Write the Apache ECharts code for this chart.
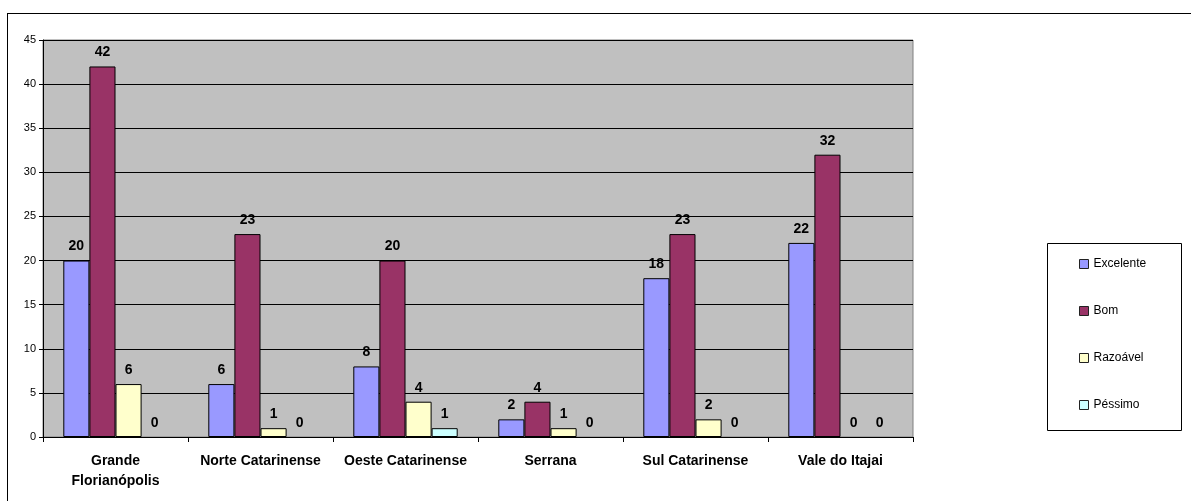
<!DOCTYPE html>
<html><head><meta charset="utf-8">
<script src="https://cdn.jsdelivr.net/npm/echarts@6/dist/echarts.min.js"></script>
<style>
html,body{margin:0;padding:0;background:#fff;overflow:hidden}
#frame{position:absolute;left:7px;top:13px;width:1200px;height:600px;border-left:1.5px solid #000;border-top:1.5px solid #000;}
#c{position:absolute;left:0;top:0;width:1191px;height:501px}
</style></head>
<body>
<div id="frame"></div>
<div id="c"></div>
<script>
const categories = ['Grande\nFlorianópolis','Norte Catarinense','Oeste Catarinense','Serrana','Sul Catarinense','Vale do Itajai'];
const seriesNames = ['Excelente','Bom','Razoável','Péssimo'];
const excelente = [20,6,8,2,18,22];
const bom = [42,23,20,4,23,32];
const razoavel = [6,1,4,1,2,0];
const pessimo = [0,0,1,0,0,0];
const yTicks = {min:0,max:45,interval:5};

const colors = ['#9999ff','#993366','#ffffcc','#ccffff'];
const values = [excelente,bom,razoavel,pessimo];
const font = 'Liberation Sans, Arial, sans-serif';

const chart = echarts.init(document.getElementById('c'), null, {renderer:'canvas'});
chart.setOption({
  animation:false,
  backgroundColor:'transparent',
  grid:{left:43,right:278,top:40,bottom:64,show:true,backgroundColor:'#c0c0c0',borderColor:'#808080',borderWidth:1},
  graphic:[{type:'rect',left:1047,top:243,shape:{width:134,height:187},style:{fill:'#fff',stroke:'#000',lineWidth:1},z:-1}],
  legend:{
    orient:'vertical',
    left:1079,top:258,
    padding:0,
    itemGap:35,
    itemWidth:9,itemHeight:9,
    textStyle:{fontFamily:font,fontSize:12,color:'#000',padding:[0,0,0,0]},
    icon:'rect',
    data:seriesNames.map(n=>({name:n,itemStyle:{borderColor:'#222',borderWidth:1}}))
  },
  xAxis:{
    type:'category',data:categories,
    axisLine:{lineStyle:{color:'#000',width:1}},
    axisTick:{show:true,interval:0,length:5,lineStyle:{color:'#000'}},
    axisLabel:{interval:0,fontFamily:font,fontSize:14,fontWeight:'bold',color:'#000',margin:14,lineHeight:20}
  },
  yAxis:{
    type:'value',min:yTicks.min,max:yTicks.max,interval:yTicks.interval,
    axisLine:{show:true,lineStyle:{color:'#000'}},
    axisTick:{show:true,length:4,lineStyle:{color:'#000'}},
    axisLabel:{fontFamily:font,fontSize:11,color:'#000',margin:7},
    splitLine:{lineStyle:{color:'#000',width:1}}
  },
  series:seriesNames.map((n,i)=>({
    name:n,type:'bar',
    data:values[i].map(v=>({value:v,itemStyle:{borderWidth:v===0?0:1}})),
    barGap:'0%',barCategoryGap:'28%',
    itemStyle:{color:colors[i],borderColor:'#000',borderWidth:1},
    label:{show:true,position:'top',distance:7,fontFamily:font,fontSize:14,fontWeight:'bold',color:'#000'}
  }))
});
</script>
</body></html>
